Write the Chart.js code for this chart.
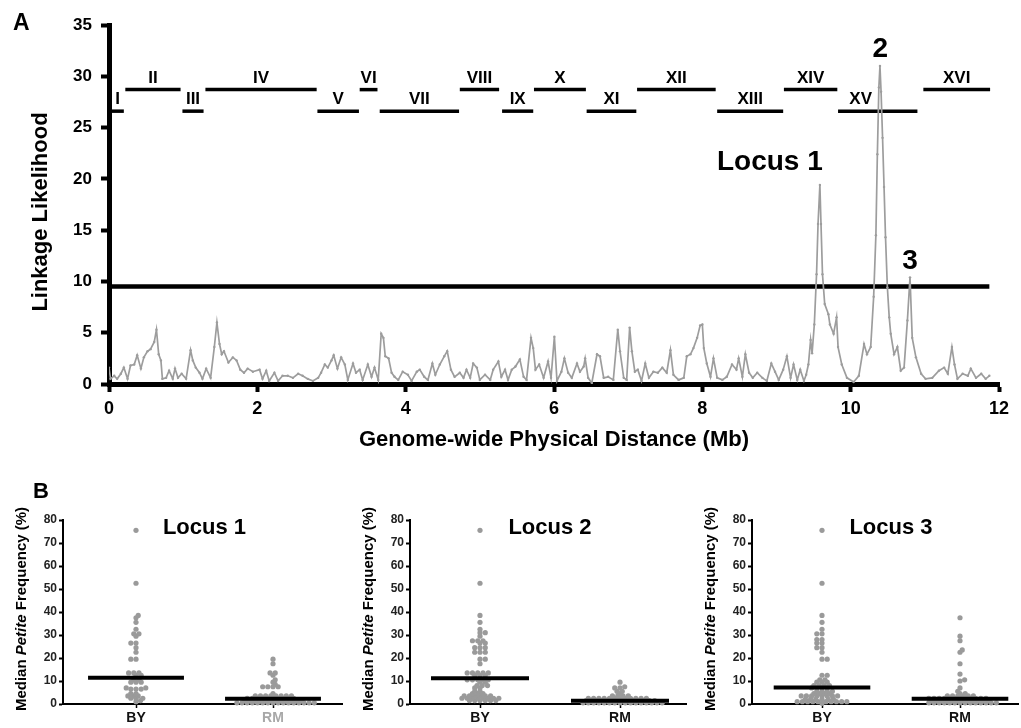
<!DOCTYPE html>
<html>
<head>
<meta charset="utf-8">
<script src="https://cdn.jsdelivr.net/npm/chart.js@4.4.1/dist/chart.umd.min.js"></script>
<style>
  body { margin: 0; background: #fff; }
  #wrap { position: relative; width: 1021px; height: 728px; overflow: hidden; background: #fff; }
  canvas { position: absolute; }
</style>
</head>
<body>
<div id="wrap">
  <canvas id="linkage" width="1021" height="460" style="left:0;top:0"></canvas>
</div>
<script>
const FONT = "'Liberation Sans', Arial, Helvetica, sans-serif";
Chart.defaults.font.family = FONT;

// ---- Panel A: genome-wide linkage scan ----
const distanceMb = [
  0.00, 0.02, 0.07, 0.11, 0.16, 0.20, 0.25, 0.29, 0.34, 0.38,
  0.43, 0.47, 0.52, 0.56, 0.61, 0.64, 0.67, 0.70, 0.72, 0.77,
  0.81, 0.86, 0.89, 0.93, 0.98, 1.04, 1.10, 1.13, 1.17, 1.22,
  1.26, 1.31, 1.37, 1.42, 1.455, 1.49, 1.52, 1.55, 1.61, 1.67,
  1.72, 1.77, 1.82, 1.87, 1.94, 2.03, 2.07, 2.12, 2.16, 2.23,
  2.28, 2.34, 2.41, 2.48, 2.55, 2.61, 2.68, 2.75, 2.82, 2.86,
  2.91, 2.95, 3.00, 3.03, 3.08, 3.13, 3.18, 3.22, 3.29, 3.33,
  3.38, 3.42, 3.49, 3.54, 3.58, 3.63, 3.67, 3.70, 3.725, 3.77,
  3.81, 3.85, 3.90, 3.96, 4.03, 4.08, 4.15, 4.19, 4.25, 4.30,
  4.36, 4.40, 4.46, 4.52, 4.56, 4.61, 4.66, 4.73, 4.78, 4.82,
  4.87, 4.91, 4.96, 5.00, 5.07, 5.14, 5.18, 5.25, 5.29, 5.34,
  5.38, 5.43, 5.48, 5.54, 5.59, 5.63, 5.69, 5.72, 5.75, 5.80,
  5.86, 5.92, 5.96, 6.005, 6.04, 6.10, 6.14, 6.19, 6.24, 6.31,
  6.35, 6.40, 6.42, 6.46, 6.51, 6.58, 6.62, 6.67, 6.73, 6.80,
  6.86, 6.89, 6.94, 6.98, 7.02, 7.05, 7.09, 7.13, 7.18, 7.23,
  7.28, 7.34, 7.40, 7.46, 7.52, 7.57, 7.61, 7.68, 7.75, 7.79,
  7.84, 7.88, 7.93, 7.97, 8.00, 8.02, 8.06, 8.11, 8.15, 8.20,
  8.27, 8.33, 8.40, 8.46, 8.49, 8.54, 8.58, 8.63, 8.68, 8.74,
  8.81, 8.87, 8.93, 8.98, 9.03, 9.09, 9.14, 9.19, 9.23, 9.28,
  9.32, 9.37, 9.40, 9.43, 9.46, 9.48, 9.51, 9.54, 9.56, 9.585,
  9.60, 9.62, 9.65, 9.70, 9.72, 9.77, 9.81, 9.83, 9.88, 9.95,
  10.04, 10.11, 10.18, 10.22, 10.27, 10.31, 10.34, 10.36, 10.38, 10.395,
  10.41, 10.43, 10.45, 10.47, 10.495, 10.52, 10.54, 10.585, 10.63, 10.675,
  10.72, 10.765, 10.80, 10.83, 10.88, 10.95, 11.01, 11.10, 11.19, 11.26,
  11.31, 11.365, 11.40, 11.44, 11.51, 11.58, 11.62, 11.69, 11.76, 11.82,
  11.87
];
const likelihood = [
  1.6, 0.5, 0.8, 0.5, 1.0, 1.6, 0.5, 1.8, 1.9, 2.8,
  1.5, 2.6, 3.2, 3.4, 4.1, 5.3, 2.9, 2.3, 0.5, 0.6,
  1.3, 0.5, 1.5, 0.6, 1.0, 0.5, 3.3, 2.3, 1.6, 1.1,
  0.5, 1.5, 0.6, 3.6, 6.0, 3.9, 2.9, 3.2, 2.1, 2.6,
  2.3, 1.4, 1.1, 1.5, 1.2, 1.4, 0.5, 1.3, 0.3, 1.1,
  0.3, 0.8, 0.8, 0.6, 1.0, 0.8, 0.5, 0.3, 0.6, 1.1,
  1.9, 1.6, 2.3, 2.8, 1.5, 2.6, 1.9, 0.4, 2.0, 1.1,
  1.4, 0.4, 1.9, 0.7, 1.6, 0.4, 4.9, 4.5, 2.7, 2.5,
  1.1, 0.7, 0.4, 1.2, 0.9, 0.3, 1.2, 1.4, 0.7, 0.4,
  2.0, 0.9, 1.9, 2.7, 3.2, 1.4, 0.7, 1.1, 0.6, 1.4,
  0.6, 2.0, 1.6, 0.4, 0.9, 0.4, 1.4, 2.2, 0.7, 1.4,
  0.4, 1.4, 1.7, 2.4, 0.7, 0.4, 4.5, 3.5, 1.4, 1.9,
  0.6, 2.2, 0.6, 4.6, 0.3, 1.2, 2.5, 1.1, 0.6, 2.0,
  1.2, 1.7, 2.5, 0.6, 0.1, 2.9, 2.7, 0.6, 0.7, 0.4,
  5.3, 3.2, 0.6, 0.4, 5.5, 3.2, 1.2, 1.4, 0.3, 2.0,
  0.6, 1.2, 1.1, 1.6, 1.1, 3.3, 0.9, 0.4, 0.6, 2.7,
  2.9, 3.5, 4.5, 5.7, 5.8, 3.5, 2.0, 0.7, 2.5, 0.6,
  0.4, 0.7, 1.9, 1.4, 2.5, 0.7, 2.9, 1.1, 0.6, 1.1,
  0.6, 0.3, 2.0, 1.2, 0.4, 1.4, 2.7, 0.6, 1.9, 0.4,
  1.4, 0.3, 0.9, 1.9, 4.3, 3.0, 5.8, 10.7, 15.6, 19.4,
  15.6, 10.7, 7.8, 6.8, 5.8, 4.9, 6.5, 3.6, 1.9, 0.6,
  0.2, 0.8, 3.9, 2.9, 3.6, 8.5, 14.5, 22.4, 28.9, 31.0,
  28.5, 24.0, 19.2, 14.3, 9.4, 6.5, 4.9, 2.9, 3.6, 1.3,
  1.6, 6.2, 10.4, 4.5, 2.6, 1.0, 0.5, 0.6, 1.3, 1.6,
  1.0, 3.6, 1.9, 0.5, 1.0, 0.8, 1.5, 0.6, 1.0, 0.5,
  0.8
];
const threshold = 9.5;
const thresholdEndMb = 11.87;

const chromNames = ['I','II','III','IV','V','VI','VII','VIII','IX','X','XI','XII','XIII','XIV','XV','XVI'];
const chromStart = [0.03, 0.22, 0.99, 1.30, 2.81, 3.38, 3.65, 4.73, 5.30, 5.73, 6.44, 7.12, 8.20, 9.10, 9.83, 10.98];
const chromEnd   = [0.20, 0.965, 1.275, 2.80, 3.37, 3.62, 4.72, 5.26, 5.72, 6.43, 7.11, 8.18, 9.09, 9.82, 10.90, 11.88];
const chromLevel = [26.6, 28.7, 26.6, 28.7, 26.6, 28.7, 26.6, 28.7, 26.6, 28.7, 26.6, 28.7, 26.6, 28.7, 26.6, 28.7];

// ---- Panel B: median petite frequency by genotype at each locus ----
const genotypes = ['BY', 'RM'];
const locusNames = ['Locus 1', 'Locus 2', 'Locus 3'];
const by1 = [75.5, 52.5, 38.5, 37.5, 35.5, 32.5, 30.5, 30.5, 29.5, 26.5, 26.5, 24.5, 22.5, 19.5, 19.5,
  13.5, 13.5, 13.5, 12.5, 12.5, 10.5, 10.5, 9.5, 9.5, 9.5, 7, 7, 6.5, 6.5, 6.5, 4.5, 4.5,
  3.5, 3.5, 3.5, 2.5, 2.5, 2.5, 1.5, 1];
const rm1 = [19.5, 17.5, 13.5, 13.5, 12.5, 10.5, 9.5, 8.5, 7.5, 7.5, 7.5, 7.5, 4.5,
  3.5, 3.5, 3.5, 3.5, 3.5, 3.5, 3.5, 3.5,
  2.5, 2.5, 2.5, 2.5, 2.5, 2.5, 2.5, 2.5, 2.5, 2.5,
  1.5, 1.5, 1.5, 1.5, 1.5, 1.5, 1.5, 1.5, 1.5, 1.5, 1.5, 1.5,
  0.5, 0.5, 0.5, 0.5, 0.5, 0.5, 0.5, 0.5, 0.5, 0.5, 0.5, 0.5, 0.5, 0.5, 0.5, 0.5];
const by2 = [75.5, 52.5, 38.5, 35.5, 32.5, 31, 31, 29.5, 27.5, 27.5, 27.5, 26.5, 26.5, 24.5, 24.5, 24.5,
  22.5, 22.5, 22.5, 19.5, 19.5, 17.5, 13.5, 13.5, 13.5, 13.5, 13.5, 12.5, 12.5, 12.5,
  10.5, 10.5, 10.5, 10.5, 10.5, 9.5, 9.5, 8, 8, 8, 7, 7, 5.5, 5.5, 4.5, 4.5, 4.5,
  3.5, 3.5, 3.5, 3.5, 3.5, 3.5, 2.5, 2.5, 2.5, 2.5, 2.5, 2.5, 2.5, 2.5,
  1.5, 1.5, 1.5, 1.5, 1.5, 1.5];
const rm2 = [9.5, 7.5, 7, 7, 5.5, 5.5, 4.5, 3.5, 3.5, 3.5, 3.5,
  2.5, 2.5, 2.5, 2.5, 2.5, 2.5, 2.5, 2.5, 2.5, 2.5, 2.5, 2.5,
  1.5, 1.5, 1.5, 1.5, 1.5, 1.5, 1.5, 1.5, 1.5, 1.5, 1.5, 1.5, 1.5, 1.5,
  0.5, 0.5, 0.5, 0.5, 0.5, 0.5, 0.5, 0.5, 0.5, 0.5, 0.5, 0.5, 0.5, 0.5, 0.5, 0.5];
const by3 = [75.5, 52.5, 38.5, 35.5, 32.5, 30.5, 30.5, 28, 28, 26.5, 26.5, 24.5, 24.5, 22.5, 19.5, 19.5,
  12.5, 12.5, 10.5, 10.5, 9.5, 9.5, 9.5, 8, 8, 8, 8, 7, 7, 7, 7, 5.5, 5.5, 5.5, 5.5,
  4.5, 4.5, 4.5, 4.5, 3.5, 3.5, 3.5, 3.5, 3.5, 3.5, 3.5, 3.5, 2, 2, 2, 2, 2, 2,
  1, 1, 1, 1, 1, 1, 1, 1, 1, 1, 0.3];
const rm3 = [37.5, 29.5, 27.5, 23.5, 22.5, 17.5, 13, 10.5, 10, 7, 5.5, 4.5, 4.5,
  3.5, 3.5, 3.5, 3.5, 3.5, 3.5,
  2.5, 2.5, 2.5, 2.5, 2.5, 2.5, 2.5, 2.5, 2.5, 2.5, 2.5, 2.5,
  1.5, 1.5, 1.5, 1.5, 1.5, 1.5, 1.5, 1.5, 1.5, 1.5, 1.5, 1.5,
  0.5, 0.5, 0.5, 0.5, 0.5, 0.5, 0.5, 0.5, 0.5, 0.5, 0.5, 0.5, 0.5, 0.5];
const byValues = [by1, by2, by3];
const rmValues = [rm1, rm2, rm3];
const byMedian = [11.4, 11.2, 7.2];
const rmMedian = [2.3, 1.4, 2.3];

const TRACE_GREY = '#9d9d9d';
const DOT_GREY = '#9a9a9a';

// ---------- Panel A ----------
const chromSets = chromNames.map((n, i) => ({
  data: [{ x: chromStart[i], y: chromLevel[i] }, { x: chromEnd[i], y: chromLevel[i] }],
  showLine: true, borderColor: '#000', borderWidth: 3.5, pointRadius: 0
}));

const panelA = {
  id: 'panelA',
  afterDraw(chart) {
    const { ctx, scales: { x, y }, chartArea } = chart;
    ctx.save();
    ctx.fillStyle = '#000';
    ctx.textAlign = 'left';
    ctx.textBaseline = 'alphabetic';
    ctx.font = 'bold 23px ' + FONT;
    ctx.fillText('A', 13, 30);

    // chromosome names
    ctx.font = 'bold 17px ' + FONT;
    ctx.textAlign = 'center';
    ctx.textBaseline = 'bottom';
    chromNames.forEach((n, i) => {
      let mid = (chromStart[i] + chromEnd[i]) / 2;
      if (n === 'XV') mid -= 0.23;
      ctx.fillText(n, x.getPixelForValue(mid), y.getPixelForValue(chromLevel[i]) - 3);
    });

    // locus labels
    ctx.font = 'bold 28px ' + FONT;
    ctx.textBaseline = 'middle';
    ctx.fillText('Locus 1', x.getPixelForValue(8.91), y.getPixelForValue(21.6));
    ctx.fillText('2', x.getPixelForValue(10.40), y.getPixelForValue(32.6));
    ctx.fillText('3', x.getPixelForValue(10.80), y.getPixelForValue(12.0));

    // axis titles
    ctx.font = 'bold 22px ' + FONT;
    ctx.fillText('Genome-wide Physical Distance (Mb)', (chartArea.left + chartArea.right) / 2, 440);
    ctx.translate(41, 212);
    ctx.rotate(-Math.PI / 2);
    ctx.fillText('Linkage Likelihood', 0, 0);
    ctx.restore();
  }
};

new Chart(document.getElementById('linkage'), {
  type: 'scatter',
  data: {
    datasets: [
      {
        data: distanceMb.map((d, i) => ({ x: d, y: likelihood[i] })),
        showLine: true, borderColor: TRACE_GREY, borderWidth: 1.7,
        pointRadius: 1.2, pointBackgroundColor: TRACE_GREY, pointBorderWidth: 0
      },
      {
        data: [{ x: 0, y: threshold }, { x: thresholdEndMb, y: threshold }],
        showLine: true, borderColor: '#000', borderWidth: 4.5, pointRadius: 0
      },
      ...chromSets
    ]
  },
  options: {
    responsive: false,
    animation: false,
    layout: { padding: { top: 25, right: 22, left: 0, bottom: 0 } },
    plugins: { legend: { display: false }, tooltip: { enabled: false } },
    scales: {
      x: {
        type: 'linear', min: 0, max: 12,
        afterFit: s => { s.height = 76; },
        ticks: { stepSize: 2, color: '#000', font: { size: 18, weight: 'bold' }, padding: 6 },
        grid: { drawOnChartArea: false, tickLength: 8, tickWidth: 4, tickColor: '#000' },
        border: { color: '#000', width: 5 }
      },
      y: {
        min: 0, max: 35,
        afterFit: s => { s.width = 109; },
        ticks: { stepSize: 5, color: '#000', font: { size: 17, weight: 'bold' }, padding: 9 },
        grid: { drawOnChartArea: false, tickLength: 8, tickWidth: 4, tickColor: '#000' },
        border: { color: '#000', width: 5 }
      }
    }
  },
  plugins: [panelA]
});

// ---------- Panel B ----------
// column scatter: each dot goes to the free spot nearest the category centre
const PX_X = 138, PX_Y = 4.7, DOT_GAP = 5.2, MEDIAN_HALF = 0.35;

function columnScatter(values, centre) {
  const placed = [];
  return values.slice().sort((a, b) => a - b).map((v, n) => {
    const yy = v * PX_Y;
    const blocks = [];
    placed.forEach(p => {
      const dy = Math.abs(p.y - yy);
      if (dy < DOT_GAP) {
        const w = Math.sqrt(DOT_GAP * DOT_GAP - dy * dy);
        blocks.push([p.x - w, p.x + w]);
      }
    });
    const cands = [0];
    blocks.forEach(b => cands.push(b[0], b[1]));
    const side = n % 2 ? 1 : -1;
    cands.sort((a, b) => (Math.abs(a) - Math.abs(b)) || side * (b - a));
    const dx = cands.find(c => blocks.every(b => c <= b[0] + 1e-6 || c >= b[1] - 1e-6));
    placed.push({ x: dx, y: yy });
    return { x: centre + dx / PX_X, y: v };
  });
}

// layout of the three small panels (absolute pixel positions)
const panelBox = [
  { axis: 63, by: 136, rm: 273, right: 342 },
  { axis: 410, by: 480, rm: 620, right: 686 },
  { axis: 752, by: 822, rm: 960, right: 1018 }
];

const wrap = document.getElementById('wrap');
panelBox.forEach((b, k) => {
  const canvas = document.createElement('canvas');
  const left = b.axis - 63;
  const width = b.right - left + 6;
  canvas.width = width;
  canvas.height = 288;
  canvas.style.left = left + 'px';
  canvas.style.top = '440px';
  wrap.appendChild(canvas);

  const unit = b.rm - b.by;
  const xmin = 1 - (b.by - b.axis) / unit;
  const xmax = 2 + (b.right - b.rm) / unit;

  const labels = {
    id: 'labels' + k,
    afterDraw(chart) {
      const { ctx, chartArea, scales: { x } } = chart;
      ctx.save();
      ctx.fillStyle = '#000';
      if (k === 0) {
        ctx.font = 'bold 22px ' + FONT;
        ctx.textAlign = 'left';
        ctx.textBaseline = 'alphabetic';
        ctx.fillText('B', 33, 58);
      }
      ctx.font = 'bold 22px ' + FONT;
      ctx.textAlign = 'center';
      ctx.textBaseline = 'middle';
      ctx.fillText(locusNames[k], x.getPixelForValue(1.5), chartArea.top + 8);

      // y title with italic "Petite"
      const parts = [
        { text: 'Median ', font: 'bold 15px ' + FONT },
        { text: 'Petite', font: 'italic bold 15px ' + FONT },
        { text: ' Frequency (%)', font: 'bold 15px ' + FONT }
      ];
      let total = 0;
      parts.forEach(p => { ctx.font = p.font; p.w = ctx.measureText(p.text).width; total += p.w; });
      ctx.translate(chartArea.left - 41, (chartArea.top + chartArea.bottom) / 2 - 3);
      ctx.rotate(-Math.PI / 2);
      ctx.textAlign = 'left';
      let px = -total / 2;
      parts.forEach(p => { ctx.font = p.font; ctx.fillText(p.text, px, 0); px += p.w; });
      ctx.restore();
    }
  };

  new Chart(canvas, {
    type: 'scatter',
    data: {
      datasets: [
        { data: columnScatter(byValues[k], 1), pointRadius: 2.6, pointBackgroundColor: DOT_GREY, pointBorderWidth: 0, clip: false, order: 2 },
        { data: columnScatter(rmValues[k], 2), pointRadius: 2.6, pointBackgroundColor: DOT_GREY, pointBorderWidth: 0, clip: false, order: 2 },
        { data: [{ x: 1 - MEDIAN_HALF, y: byMedian[k] }, { x: 1 + MEDIAN_HALF, y: byMedian[k] }],
          showLine: true, borderColor: '#000', borderWidth: 4, pointRadius: 0, order: 0 },
        { data: [{ x: 2 - MEDIAN_HALF, y: rmMedian[k] }, { x: 2 + MEDIAN_HALF, y: rmMedian[k] }],
          showLine: true, borderColor: '#000', borderWidth: 4, pointRadius: 0, order: 0 }
      ]
    },
    options: {
      responsive: false,
      animation: false,
      layout: { padding: { top: 80, right: width - (b.right - left), left: 0, bottom: 0 } },
      plugins: { legend: { display: false }, tooltip: { enabled: false } },
      scales: {
        x: {
          type: 'linear', min: xmin, max: xmax,
          afterBuildTicks: s => { s.ticks = [{ value: 1 }, { value: 2 }]; },
          afterFit: s => { s.height = 24; },
          ticks: {
            callback: v => genotypes[v - 1],
            color: c => (k === 0 && c.tick && c.tick.value === 2) ? '#a8a8a8' : '#111',
            font: { size: 14, weight: 'bold' }, padding: 2, maxRotation: 0, autoSkip: false
          },
          grid: { drawOnChartArea: false, tickLength: 4, tickWidth: 1.5, tickColor: '#000' },
          border: { color: '#000', width: 2 }
        },
        y: {
          min: 0, max: 80,
          afterFit: s => { s.width = 63; },
          ticks: { stepSize: 10, color: '#222', font: { size: 12, weight: 'bold' }, padding: 2 },
          grid: { drawOnChartArea: false, tickLength: 4, tickWidth: 2, tickColor: '#000' },
          border: { color: '#000', width: 2 }
        }
      }
    },
    plugins: [labels]
  });
});
</script>
</body>
</html>
